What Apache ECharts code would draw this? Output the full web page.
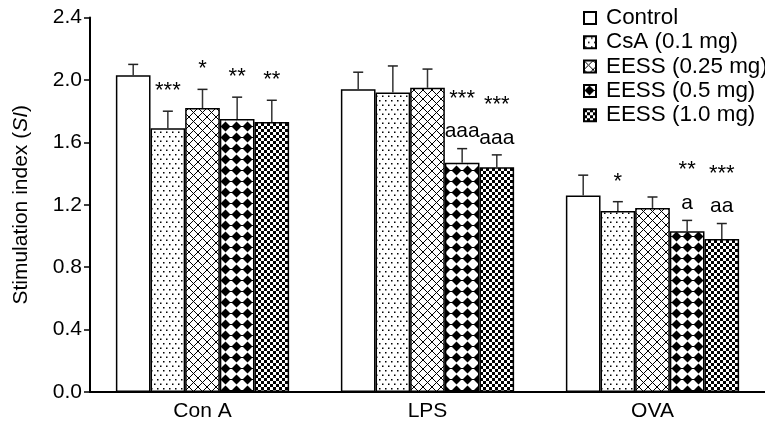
<!DOCTYPE html>
<html>
<head>
<meta charset="utf-8">
<script src="https://cdn.jsdelivr.net/npm/echarts@6/dist/echarts.min.js"></script>
<style>html,body{margin:0;padding:0;background:#fff}#c{width:765px;height:433px}</style>
</head>
<body>
<div id="c"></div>
<script>
// ---- data ----
var categories = ['Con A', 'LPS', 'OVA'];
var seriesNames = ['Control', 'CsA (0.1 mg)', 'EESS (0.25 mg)', 'EESS (0.5 mg)', 'EESS (1.0 mg)'];
var controlVals = [2.03, 1.94, 1.26];
var controlErr  = [0.07, 0.11, 0.13];
var csaVals     = [1.69, 1.92, 1.16];
var csaErr      = [0.11, 0.17, 0.06];
var e025Vals    = [1.82, 1.95, 1.18];
var e025Err     = [0.12, 0.12, 0.07];
var e05Vals     = [1.75, 1.47, 1.03];
var e05Err      = [0.14, 0.09, 0.07];
var e10Vals     = [1.73, 1.44, 0.98];
var e10Err      = [0.14, 0.08, 0.10];
var starMarks   = [['', '', ''], ['***', '', '*'], ['*', '', ''], ['**', '***', '**'], ['**', '***', '***']];
var letterMarks = [['', '', ''], ['', '', ''], ['', '', ''], ['', 'aaa', 'a'], ['', 'aaa', 'aa']];
var yTicks = [0, 0.4, 0.8, 1.2, 1.6, 2.0, 2.4];

var allVals = [controlVals, csaVals, e025Vals, e05Vals, e10Vals];
var allErr = [controlErr, csaErr, e025Err, e05Err, e10Err];

// ---- patterns ----
function makeTile(w, h, draw) {
  var c = document.createElement('canvas');
  c.width = w; c.height = h;
  var ctx = c.getContext('2d');
  ctx.fillStyle = '#fff'; ctx.fillRect(0, 0, w, h);
  ctx.fillStyle = '#000'; ctx.strokeStyle = '#000';
  draw(ctx, w, h);
  return {image: c, repeat: 'repeat'};
}
var patterns = [
  '#ffffff',
  makeTile(6, 9, function (ctx) { ctx.fillRect(1, 1, 1.5, 1.5); ctx.fillRect(4, 5.5, 1.5, 1.5); }),
  makeTile(9, 9, function (ctx, w, h) {
    ctx.lineWidth = 1;
    ctx.beginPath(); ctx.moveTo(0, 0); ctx.lineTo(w, h); ctx.moveTo(w, 0); ctx.lineTo(0, h); ctx.stroke();
  }),
  makeTile(11, 11, function (ctx) {
    ctx.beginPath(); ctx.moveTo(5.5, 0.5); ctx.lineTo(10.5, 5.5); ctx.lineTo(5.5, 10.5); ctx.lineTo(0.5, 5.5); ctx.closePath(); ctx.fill();
    ctx.lineWidth = 1; ctx.beginPath(); ctx.moveTo(0, 5.5); ctx.lineTo(11, 5.5); ctx.stroke();
  }),
  makeTile(6, 6, function (ctx) { ctx.fillRect(0, 0, 3, 3); ctx.fillRect(3, 3, 3, 3); })
];

var FONT = '"Liberation Sans", Arial, sans-serif';
var GAP = 0.23;

var series = seriesNames.map(function (name, i) {
  return {
    name: name, type: 'bar', data: allVals[i], barGap: 0, barCategoryGap: '23%',
    itemStyle: {color: patterns[i], borderColor: '#000', borderWidth: 1.5},
    emphasis: {disabled: true}, z: 2
  };
});

var errData = [];
for (var s = 0; s < 5; s++) {
  for (var k = 0; k < categories.length; k++) {
    errData.push([k, allVals[s][k], allVals[s][k] + allErr[s][k], s, starMarks[s][k], letterMarks[s][k]]);
  }
}
series.push({
  type: 'custom', z: 5, silent: true, data: errData,
  encode: {x: 0, y: 2},
  renderItem: function (params, api) {
    var cat = api.value(0), val = api.value(1), top = api.value(2), si = api.value(3);
    var band = api.size([1, 0])[0];
    var bw = band * (1 - GAP) / 5;
    var c0 = api.coord([cat, val]);
    var c1 = api.coord([cat, top]);
    var x = c0[0] + (si - 2) * bw;
    var d = errData[params.dataIndex];
    var star = d[4], letter = d[5];
    var children = [
      {type: 'line', shape: {x1: x, y1: c0[1], x2: x, y2: c1[1]}, style: {stroke: '#333', lineWidth: 1.5}},
      {type: 'line', shape: {x1: x - 5, y1: c1[1], x2: x + 5, y2: c1[1]}, style: {stroke: '#222', lineWidth: 1.5}}
    ];
    if (letter) {
      children.push({type: 'text', style: {text: letter, x: x, y: c1[1] - 17, align: 'center', verticalAlign: 'middle', font: '21px ' + FONT, fill: '#000'}});
    }
    if (star) {
      children.push({type: 'text', style: {text: star, x: x, y: c1[1] - (letter ? 50 : 20), align: 'center', verticalAlign: 'middle', font: '22px ' + FONT, fill: '#000'}});
    }
    return {type: 'group', children: children};
  }
});

var chart = echarts.init(document.getElementById('c'), null, {renderer: 'canvas'});
chart.setOption({
  animation: false,
  backgroundColor: '#fff',
  grid: {left: 90, right: 0, top: 17.6, bottom: 41, containLabel: false},
  legend: {
    orient: 'vertical', left: 583, top: 6.5, padding: 0, itemWidth: 12, itemHeight: 12, itemGap: 1.3,
    icon: 'rect', data: seriesNames, selectedMode: false,
    textStyle: {fontFamily: FONT, fontSize: 22.4, color: '#000', lineHeight: 23, padding: [0, 0, 0, 5]}
  },
  xAxis: {
    type: 'category', data: categories,
    axisLine: {lineStyle: {color: '#000', width: 2}},
    axisTick: {show: false},
    axisLabel: {fontFamily: FONT, fontSize: 21, color: '#000', margin: 9}
  },
  yAxis: {
    type: 'value', min: 0, max: 2.4, interval: 0.4,
    name: '{n|Stimulation index (}{i|SI}{n|)}', nameLocation: 'middle', nameGap: 58, nameRotate: 90,
    nameTextStyle: {rich: {n: {fontFamily: FONT, fontSize: 21, color: '#000'}, i: {fontFamily: FONT, fontSize: 21, fontStyle: 'italic', color: '#000'}}},
    axisLine: {show: true, lineStyle: {color: '#000', width: 2}},
    axisTick: {show: true, length: 6, lineStyle: {color: '#000', width: 1.5}},
    splitLine: {show: false},
    axisLabel: {fontFamily: FONT, fontSize: 21, color: '#000', margin: 8, formatter: function (v) { return v.toFixed(1); }}
  },
  series: series
});
</script>
</body>
</html>
